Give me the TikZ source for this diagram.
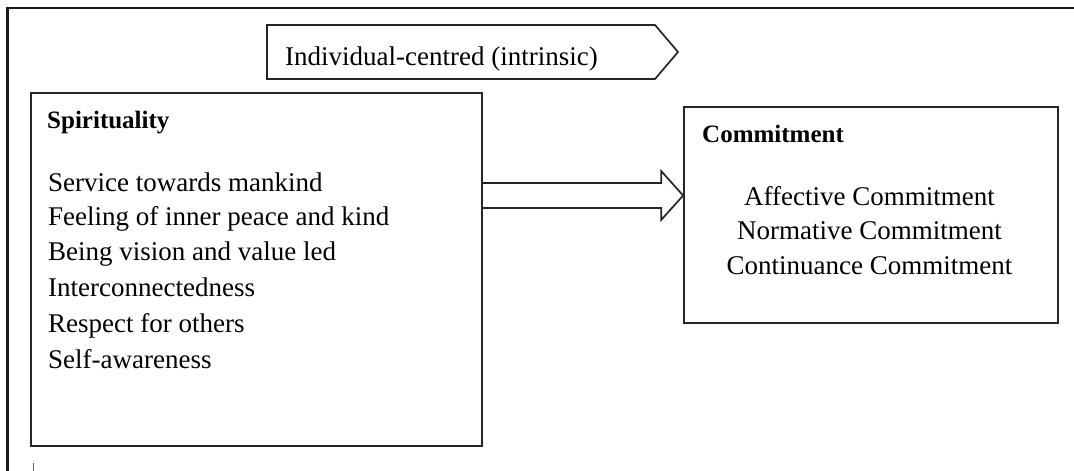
\documentclass[tikz,border=0pt]{standalone}
\usepackage{fontspec}
\setmainfont{Liberation Serif}
\usetikzlibrary{calc}
\begin{document}
\begin{tikzpicture}[x=1pt,y=-1pt,
  boxline/.style={draw=black!85, line width=1.7pt},
  box/.style={boxline, inner sep=0pt},
  frameline/.style={draw=black!90, line width=2.6pt},
  itemtext/.style={inner sep=0pt, anchor=base west, font=\fontsize{27}{34}\selectfont},
  ctext/.style={inner sep=0pt, anchor=base, font=\fontsize{27}{34}\selectfont},
  headtext/.style={inner sep=0pt, anchor=base west, font=\fontsize{25}{30}\selectfont\bfseries}]
\useasboundingbox (0,0) rectangle (1074,471);
\fill[white] (0,0) rectangle (1074,471);
% outer frame (cut off at right and bottom)
\coordinate (fb) at (7.5,471);
\coordinate (ftl) at (7.5,8);
\coordinate (ftr) at (1074,8);
\draw[frameline] (fb) -- (ftl) -- (ftr);
% small tick at bottom
\coordinate (tk1) at (33.5,463);
\coordinate (tk2) at (33.5,471);
\draw[draw=black!60, line width=1pt] (tk1) -- (tk2);
% individual-centred banner
\coordinate (b1) at (267,25);
\coordinate (b2) at (655,25);
\coordinate (b3) at (678,52);
\coordinate (b4) at (655,79);
\coordinate (b5) at (267,79);
\draw[boxline, line join=miter] (b1) -- (b2) -- (b3) -- (b4) -- (b5) -- cycle;
\node[itemtext] (indiv) at (285,65) {Individual-centred (intrinsic)};
% boxes
\node[box, minimum width=451pt, minimum height=353pt] (spir) at (256.5,269.5) {};
\node[box, minimum width=374pt, minimum height=216pt] (comm) at (871,215) {};
% spirituality text
\node[headtext] (spirt) at (47,128) {Spirituality};
\node[itemtext] (s1) at (48,191) {Service towards mankind};
\node[itemtext] (s2) at (48,225) {Feeling of inner peace and kind};
\node[itemtext] (s3) at (48,260) {Being vision and value led};
\node[itemtext] (s4) at (48,296.5) {Interconnectedness};
\node[itemtext] (s5) at (48,332.5) {Respect for others};
\node[itemtext] (s6) at (48,368) {Self-awareness};
% commitment text
\node[headtext] (commt) at (702,142) {Commitment};
\node[ctext] (c1) at (869.5,205) {Affective Commitment};
\node[ctext] (c2) at (869.5,239.5) {Normative Commitment};
\node[ctext] (c3) at (869.5,274) {Continuance Commitment};
% block arrow
\coordinate (ay) at (0,195.5);
\draw[boxline, line join=miter]
  ($(spir.east|-ay)+(0,-12.5)$) -- ($(comm.west|-ay)+(-22,-12.5)$) -- ++(0,-12)
  -- (comm.west|-ay)
  -- ($(comm.west|-ay)+(-22,24.5)$) -- ++(0,-12)
  -- ($(spir.east|-ay)+(0,12.5)$);
\end{tikzpicture}
\end{document}
